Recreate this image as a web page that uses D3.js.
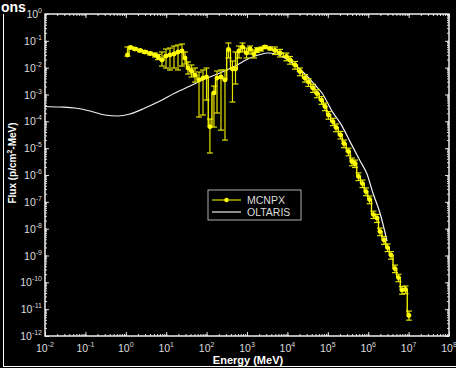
<!DOCTYPE html>
<html>
<head>
<meta charset="utf-8">
<script src="https://cdn.jsdelivr.net/npm/d3@7"></script>
<style>
  html, body { margin: 0; padding: 0; background: #000; }
  svg { display: block; font-family: "Liberation Sans", Arial, sans-serif; }
</style>
</head>
<body>
<script>
// MCNPX tally (energy in MeV, flux with lower/upper error bounds)
const mcnpxEnergy = [1.10, 1.31, 1.69, 2.25, 2.98, 3.97, 5.28, 6.27, 7.87, 9.89,
  12.4, 15.6, 19.6, 24.6, 29.2, 34.7, 42.3, 51.6, 64.9, 81.5,
  99.5, 121, 152, 181, 227, 285, 348, 437, 519, 634,
  774, 973, 1186, 1490, 1770, 2220, 2790, 3710, 4930, 6560,
  9500, 11600, 15400, 20500, 27300, 33300, 43000, 54000, 69900, 85300,
  1.04e5, 1.34e5, 1.60e5, 2.06e5, 2.52e5, 3.25e5, 3.97e5, 4.71e5, 5.75e5, 7.22e5,
  8.83e5, 1.08e6, 1.35e6, 1.65e6, 1.96e6, 2.46e6, 3.01e6, 3.67e6, 4.60e6, 5.62e6,
  6.87e6, 8.38e6, 1.02e7];
const mcnpxFlux = [0.0296, 0.0564, 0.0496, 0.0436, 0.0384, 0.0337, 0.0296, 0.0250, 0.0193, 0.0272,
  0.0296, 0.0323, 0.0384, 0.0418, 0.0229, 0.0097, 0.0075, 0.0053, 0.0035, 0.0041,
  0.0045, 6.3e-5, 0.00114, 0.0041, 0.0045, 0.0035, 0.0475, 0.0089, 0.0089, 0.0418,
  0.0589, 0.0352, 0.0496, 0.0323, 0.0455, 0.0496, 0.0589, 0.0518, 0.0436, 0.0352,
  0.0261, 0.0193, 0.0126, 0.0072, 0.0041, 0.0029, 0.00175, 0.00109, 6.2e-4, 3.57e-4,
  1.72e-4, 9.8e-5, 5.9e-5, 3.1e-5, 1.49e-5, 7.5e-6, 3.18e-6, 2.68e-6, 8.8e-7, 4.8e-7,
  2.42e-7, 1.22e-7, 3.36e-8, 2.49e-8, 7.8e-9, 3.77e-9, 1.98e-9, 1.04e-9, 3.27e-10, 1.51e-10,
  5.2e-11, 5.4e-11, 5.8e-12];
const mcnpxHi = [0.059, 0.062, 0.055, 0.048, 0.043, 0.038, 0.035, 0.031, 0.0384, 0.0496,
  0.054, 0.064, 0.070, 0.076, 0.0384, 0.0163, 0.0126, 0.0097, 0.0069, 0.0082,
  0.0097, 1.22e-4, 0.00207, 0.0075, 0.0082, 0.0082, 0.083, 0.0177, 0.0384, 0.064,
  0.083, 0.054, 0.064, 0.0455, 0.055, 0.058, 0.066, 0.058, 0.059, 0.048,
  0.035, 0.026, 0.017, 0.0097, 0.0055, 0.0039, 0.0024, 0.0015, 8.4e-4, 4.8e-4,
  2.3e-4, 1.3e-4, 8.0e-5, 4.2e-5, 2.0e-5, 1.0e-5, 4.3e-6, 3.6e-6, 1.2e-6, 6.5e-7,
  3.3e-7, 1.65e-7, 4.5e-8, 3.4e-8, 1.05e-8, 5.1e-9, 2.7e-9, 1.4e-9, 4.4e-10, 2.0e-10,
  7.0e-11, 7.3e-11, 8.5e-12];
const mcnpxLo = [0.027, 0.051, 0.045, 0.039, 0.034, 0.030, 0.025, 0.020, 0.0115, 0.0097,
  0.0082, 0.0097, 0.0082, 0.0115, 0.0137, 0.0058, 0.0045, 0.0029, 1.45e-4, 1.72e-4,
  6.2e-4, 6.6e-6, 6.1e-5, 2.04e-4, 4.7e-5, 2.0e-5, 0.0229, 5.25e-4, 0.00246, 0.0229,
  0.0384, 0.0229, 0.0323, 0.0229, 0.037, 0.042, 0.052, 0.046, 0.031, 0.025,
  0.018, 0.0135, 0.0088, 0.0050, 0.0029, 0.0020, 0.0012, 7.6e-4, 4.3e-4, 2.5e-4,
  1.2e-4, 6.9e-5, 4.1e-5, 2.2e-5, 1.04e-5, 5.2e-6, 2.2e-6, 1.9e-6, 6.2e-7, 3.4e-7,
  1.7e-7, 8.5e-8, 2.4e-8, 1.7e-8, 5.5e-9, 2.6e-9, 1.4e-9, 7.3e-10, 2.3e-10, 1.06e-10,
  3.6e-11, 3.8e-11, 3.9e-12];

// OLTARIS curve
const oltarisEnergy = [0.01, 0.0235, 0.0553, 0.130, 0.305, 0.641, 1.27, 2.98, 7.03, 16.5,
  38.8, 91.2, 215, 505, 1186, 2100, 3310, 5220, 8730, 15400,
  27300, 48200, 71800, 1.27e5, 2.24e5, 3.55e5, 6.27e5, 9.34e5, 1.31e6, 1.96e6, 2.92e6];
const oltarisFlux = [3.57e-4, 3.42e-4, 3.14e-4, 2.43e-4, 1.72e-4, 1.58e-4, 1.87e-4, 3.14e-4, 5.7e-4, 1.14e-3,
  2.07e-3, 3.78e-3, 6.3e-3, 0.01153, 0.0229, 0.0309, 0.0352, 0.0323, 0.0229, 0.0126,
  0.0058, 0.00226, 1.14e-3, 2.40e-4, 6.8e-5, 1.75e-5, 3.4e-6, 1.09e-6, 2.13e-7, 3.83e-8, 3.46e-9];

const xDecades = [1e-2, 1e-1, 1e0, 1e1, 1e2, 1e3, 1e4, 1e5, 1e6, 1e7, 1e8];
const yDecades = [1e0, 1e-1, 1e-2, 1e-3, 1e-4, 1e-5, 1e-6, 1e-7, 1e-8, 1e-9, 1e-10, 1e-11, 1e-12];
const seriesNames = ["MCNPX", "OLTARIS"];

const width = 456, height = 368;
const plotL = 45, plotR = 449, plotT = 14, plotB = 336;

const svg = d3.select("body").append("svg")
  .attr("width", width)
  .attr("height", height);

svg.append("rect").attr("width", width).attr("height", height).attr("fill", "#000");

const x = d3.scaleLog().domain([1e-2, 1e8]).range([plotL, plotR]);
const y = d3.scaleLog().domain([1e-12, 1]).range([plotB, plotT]);

// outer frame bits
svg.append("line").attr("x1", 3.5).attr("x2", 3.5).attr("y1", 14).attr("y2", 367)
  .attr("stroke", "#fff").attr("stroke-width", 1);
svg.append("line").attr("x1", 3).attr("x2", width).attr("y1", 366.5).attr("y2", 366.5)
  .attr("stroke", "#fff").attr("stroke-width", 1);

// what is left of the cropped title
svg.append("text")
  .attr("x", 1).attr("y", 12)
  .attr("fill", "#fff")
  .style("font-size", "14px").style("font-weight", "bold")
  .text("ons");

// minor ticks for log axes
const minorX = [];
xDecades.slice(0, -1).forEach(d => { for (let k = 1; k < 10; k++) minorX.push(d * k); });
minorX.push(1e8);
const minorY = [];
yDecades.slice(1).forEach(d => { for (let k = 1; k < 10; k++) minorY.push(d * k); });
minorY.push(1);

function styleAxis(g) {
  g.select(".domain").remove();
  g.selectAll("line").attr("stroke", "#ddd").attr("stroke-width", 1);
  g.selectAll("text").remove();
}

[[d3.axisTop(x), plotB], [d3.axisBottom(x), plotT]].forEach(([ax, pos]) => {
  svg.append("g").attr("transform", `translate(0,${pos})`)
    .call(ax.tickValues(minorX).tickSize(2).tickFormat(""))
    .call(styleAxis);
  svg.append("g").attr("transform", `translate(0,${pos})`)
    .call(ax.tickValues(xDecades).tickSize(4).tickFormat(""))
    .call(styleAxis);
});
[[d3.axisRight(y), plotL], [d3.axisLeft(y), plotR]].forEach(([ax, pos]) => {
  svg.append("g").attr("transform", `translate(${pos},0)`)
    .call(ax.tickValues(minorY).tickSize(2).tickFormat(""))
    .call(styleAxis);
  svg.append("g").attr("transform", `translate(${pos},0)`)
    .call(ax.tickValues(yDecades).tickSize(4).tickFormat(""))
    .call(styleAxis);
});

// plot frame
svg.append("rect")
  .attr("x", plotL).attr("y", plotT)
  .attr("width", plotR - plotL).attr("height", plotB - plotT)
  .attr("fill", "none").attr("stroke", "#f0f0f0").attr("stroke-width", 1.5);

// tick labels with superscript exponents
const expOf = d => Math.round(Math.log10(d));
const xl = svg.append("g").selectAll("text").data(xDecades).join("text")
  .attr("x", d => x(d)).attr("y", 352)
  .attr("text-anchor", "middle")
  .attr("fill", "#ddd")
  .style("font-size", "10.5px");
xl.append("tspan").text("10");
xl.append("tspan").attr("dy", -5).style("font-size", "7px").text(d => expOf(d));

const yl = svg.append("g").selectAll("text").data(yDecades).join("text")
  .attr("x", 42).attr("y", d => y(d) + 4)
  .attr("text-anchor", "end")
  .attr("fill", "#ddd")
  .style("font-size", "10.5px");
yl.append("tspan").text("10");
yl.append("tspan").attr("dy", -5).style("font-size", "7px").text(d => expOf(d));

// axis titles
svg.append("text")
  .attr("x", (plotL + plotR) / 2 + 1).attr("y", 364)
  .attr("text-anchor", "middle")
  .attr("fill", "#fff")
  .style("font-size", "11px").style("font-weight", "bold")
  .text("Energy (MeV)");

const yt = svg.append("text")
  .attr("transform", "translate(16,163) rotate(-90)")
  .attr("text-anchor", "middle")
  .attr("fill", "#fff")
  .style("font-size", "10px").style("font-weight", "bold");
yt.append("tspan").text("Flux (p/cm");
yt.append("tspan").attr("dy", -4).style("font-size", "7px").text("2");
yt.append("tspan").attr("dy", 4).text("-MeV)");

// OLTARIS line
const oltaris = oltarisEnergy.map((e, i) => ({ e, f: oltarisFlux[i] }));
svg.append("path")
  .datum(oltaris)
  .attr("fill", "none")
  .attr("stroke", "#f2f2f2")
  .attr("stroke-width", 1.2)
  .attr("d", d3.line().x(d => x(d.e)).y(d => y(d.f)).curve(d3.curveMonotoneX));

// MCNPX
const mcnpx = mcnpxEnergy.map((e, i) => ({ e, f: mcnpxFlux[i], lo: mcnpxLo[i], hi: mcnpxHi[i] }));
const eb = svg.append("g").selectAll("g").data(mcnpx).join("g")
  .attr("stroke", "#e0e000").attr("stroke-width", 1.2);
eb.append("line")
  .attr("x1", d => x(d.e)).attr("x2", d => x(d.e))
  .attr("y1", d => y(d.lo)).attr("y2", d => y(d.hi));
eb.append("line")
  .attr("x1", d => x(d.e) - 3).attr("x2", d => x(d.e) + 3)
  .attr("y1", d => y(d.lo)).attr("y2", d => y(d.lo));
eb.append("line")
  .attr("x1", d => x(d.e) - 3).attr("x2", d => x(d.e) + 3)
  .attr("y1", d => y(d.hi)).attr("y2", d => y(d.hi));

svg.append("path")
  .datum(mcnpx)
  .attr("fill", "none")
  .attr("stroke", "#ffff00")
  .attr("stroke-width", 1.3)
  .attr("d", d3.line().x(d => x(d.e)).y(d => y(d.f)).curve(d3.curveStep));

svg.append("g").selectAll("circle").data(mcnpx).join("circle")
  .attr("cx", d => x(d.e)).attr("cy", d => y(d.f))
  .attr("r", 2.4)
  .attr("fill", "#ffff00");

// legend
const lg = svg.append("g").attr("transform", "translate(208,190)");
lg.append("rect").attr("width", 93).attr("height", 30)
  .attr("fill", "#000").attr("stroke", "#b0b0b0").attr("stroke-width", 1);
const legendColors = ["#d8d800", "#e8e8e8"];
seriesNames.forEach((name, i) => {
  const ly = 10 + i * 12;
  lg.append("line").attr("x1", 4).attr("x2", 33).attr("y1", ly).attr("y2", ly)
    .attr("stroke", legendColors[i]).attr("stroke-width", 1.2);
  if (i === 0) lg.append("circle").attr("cx", 18.5).attr("cy", ly).attr("r", 2.2).attr("fill", "#ffff00");
  lg.append("text").attr("x", 39).attr("y", ly + 4)
    .attr("fill", "#ddd").style("font-size", "10.5px").text(name);
});
</script>
</body>
</html>
